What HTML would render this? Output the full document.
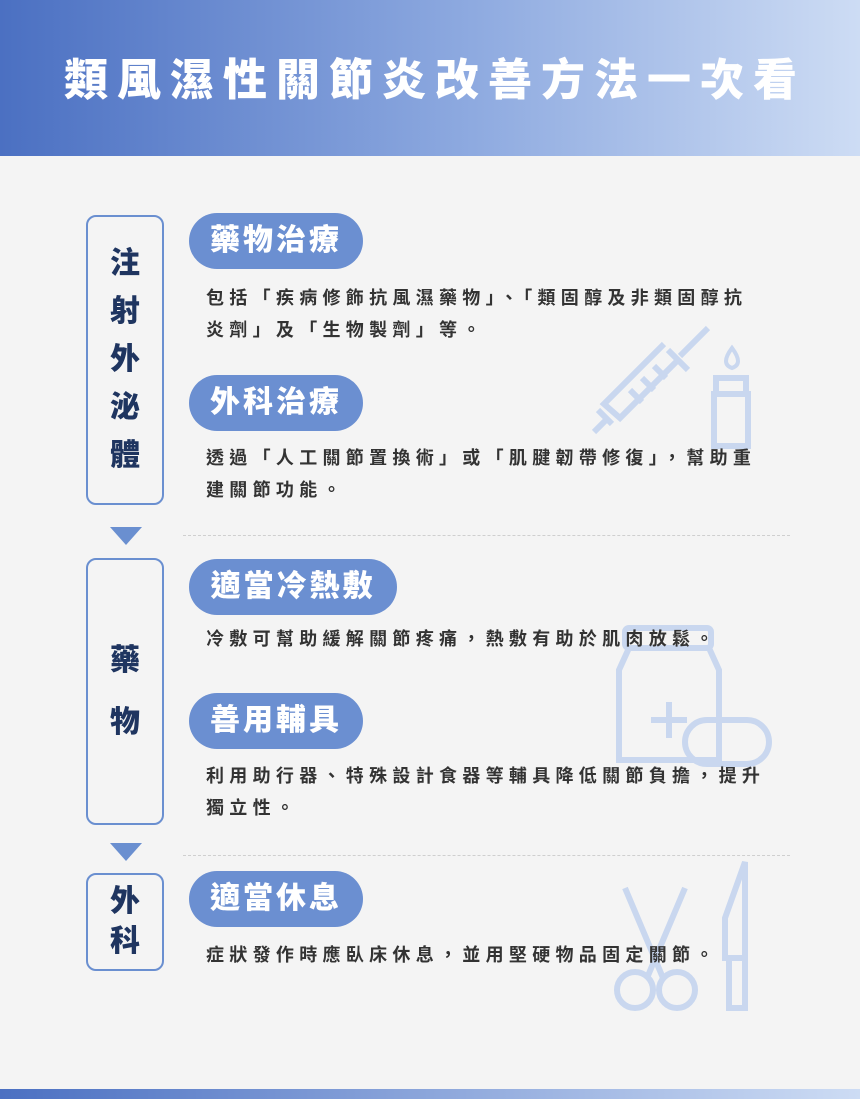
<!DOCTYPE html>
<html><head><meta charset="utf-8"><style>
body{margin:0;width:860px;height:1099px;background:#f4f4f4;position:relative;overflow:hidden;font-family:"Liberation Sans","Noto Sans CJK TC",sans-serif}
.hd{position:absolute;left:0;top:0;width:860px;height:156px;background:linear-gradient(90deg,#4b70c2,#8eaae0 55%,#cddcf4)}
.hd h1{margin:0;position:absolute;top:52px;left:0;width:870px;text-align:center;color:#fff;font-size:44px;font-weight:900;letter-spacing:9px;line-height:58px}
.bt{position:absolute;left:0;top:1089px;width:860px;height:10px;background:linear-gradient(90deg,#4b70c2,#cddcf4)}
.box{position:absolute;left:86px;width:74px;border:2.5px solid #6a8fd0;border-radius:10px;display:flex;flex-direction:column;align-items:center;justify-content:center;color:#1f3560;font-size:30px;font-weight:900;line-height:48px}
.tri{position:absolute;left:110px;width:0;height:0;border-left:16px solid transparent;border-right:16px solid transparent;border-top:18px solid #6a8fd0}
.pill{position:absolute;left:189px;width:174px;height:56px;border-radius:28px;background:#6b8fd1;color:#fff;font-size:30px;font-weight:900;letter-spacing:3px;line-height:56px;text-align:center}
.tx{position:absolute;left:206px;width:572px;color:#333;font-size:18px;font-weight:700;letter-spacing:5.3px;line-height:32px}
.dl{position:absolute;left:183px;width:607px;border-top:1.5px dashed #cfcfcf}
svg{position:absolute}
</style></head><body>
<div class="hd"><h1>類風濕性關節炎改善方法一次看</h1></div>
<svg style="left:590px;top:320px" width="180" height="130" fill="none" stroke="#c9d7ef" stroke-width="6">
<path d="M118 8 L90 36 M78 30 L98 50 M90 38 L30 98 L14 84 L74 24 M22 104 L8 90 M18 98 L4 112 M40 70 l12 12 M52 58 l12 12 M64 46 l12 12"/>
<path d="M142 28 q-12 16 0 20 q12-4 0-20z" stroke-width="4"/>
<rect x="126" y="58" width="30" height="16"/><path d="M124 74 h34 v52 h-34z"/>
</svg>
<svg style="left:615px;top:620px" width="160" height="155" fill="none" stroke="#c9d7ef" stroke-width="6">
<rect x="10" y="8" width="86" height="20" rx="4"/><path d="M14 28 L4 50 V140 H104 V50 L94 28"/>
<path d="M54 82 V118 M36 100 H72"/><rect x="70" y="100" width="84" height="44" rx="22"/>
</svg>
<svg style="left:605px;top:858px" width="150" height="160" fill="none" stroke="#c9d7ef" stroke-width="6">
<path d="M20 30 L58 120 M80 30 L42 120"/><circle cx="30" cy="132" r="18"/><circle cx="72" cy="132" r="18"/>
<path d="M140 4 L120 60 V100 H140 Z M124 100 V150 H140 V100"/>
</svg>
<div class="box" style="top:215px;height:286px">注<br>射<br>外<br>泌<br>體</div>
<div class="tri" style="top:527px"></div>
<div class="box" style="top:558px;height:263px">藥<br><span style="height:14px"></span>物</div>
<div class="tri" style="top:843px"></div>
<div class="box" style="top:873px;height:94px;line-height:40px">外<br>科</div>
<div class="pill" style="top:213px">藥物治療</div>
<div class="tx" style="top:282px">包括「疾病修飾抗風濕藥物」、「類固醇及非類固醇抗<br>炎劑」及「生物製劑」等。</div>
<div class="pill" style="top:375px">外科治療</div>
<div class="tx" style="top:442px">透過「人工關節置換術」或「肌腱韌帶修復」，幫助重<br>建關節功能。</div>
<div class="dl" style="top:535px"></div>
<div class="pill" style="top:559px;width:208px">適當冷熱敷</div>
<div class="tx" style="top:623px">冷敷可幫助緩解關節疼痛，熱敷有助於肌肉放鬆。</div>
<div class="pill" style="top:693px">善用輔具</div>
<div class="tx" style="top:760px">利用助行器、特殊設計食器等輔具降低關節負擔，提升<br>獨立性。</div>
<div class="dl" style="top:855px"></div>
<div class="pill" style="top:871px">適當休息</div>
<div class="tx" style="top:939px">症狀發作時應臥床休息，並用堅硬物品固定關節。</div>
<div class="bt"></div>
</body></html>
